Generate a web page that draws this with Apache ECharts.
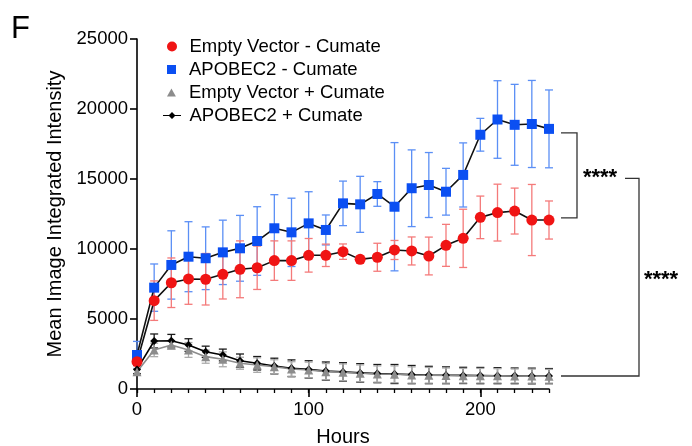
<!DOCTYPE html>
<html><head><meta charset="utf-8">
<script src="https://cdn.jsdelivr.net/npm/echarts@6/dist/echarts.min.js"></script>
<style>html,body{margin:0;padding:0;background:#fff}#c{width:692px;height:446px}</style>
</head><body><div id="c"></div>
<script>
const hours = [0,10,20,30,40,50,60,70,80,90,100,110,120,130,140,150,160,170,180,190,200,210,220,230,240];
const xTickLabels = [0,100,200];
const yTickValues = [0,5000,10000,15000,20000,25000];

const seriesNames = ['Empty Vector - Cumate','APOBEC2 - Cumate','Empty Vector + Cumate','APOBEC2 + Cumate'];

const emptyMinusMean = [1950,6310,7590,7860,7840,8190,8550,8660,9170,9170,9550,9550,9810,9260,9410,9930,9860,9500,10260,10760,12260,12600,12710,12070,12070];
const emptyMinusSD   = [300,1410,1770,1810,1840,1760,2030,1550,1410,1410,1200,800,550,250,1000,680,1000,1350,1500,2080,1520,2030,1640,2540,1360];

const apoMinusMean = [2430,7240,8860,9450,9340,9760,10050,10570,11480,11190,11830,11360,13260,13190,13930,13020,14340,14570,14090,15290,18160,19250,18870,18930,18580];
const apoMinusSD   = [970,1690,2440,2500,2240,2300,2350,2450,2400,2440,2260,1070,1590,2000,880,4580,2740,2320,1670,2290,1170,2770,2890,3110,2780];

const emptyPlusMean = [1240,2790,3140,2790,2310,2120,1840,1710,1590,1430,1360,1240,1190,1120,1070,1050,1000,980,960,950,950,940,930,920,910];
const emptyPlusSD   = [200,480,300,530,470,530,430,520,500,520,560,580,600,600,580,600,580,560,540,520,520,510,500,500,490];

const apoPlusMean = [1400,3430,3450,3140,2660,2430,2020,1840,1640,1480,1400,1280,1220,1150,1100,1070,1030,1000,980,970,960,950,940,930,920];
const apoPlusSD   = [300,500,450,450,400,420,480,480,560,600,620,650,660,660,650,680,650,620,600,580,580,570,560,560,540];

const bracketLevels = [18300, 12230, 930];
const sigLabel = '****';

const FONT = '"Liberation Sans", Arial, Helvetica, sans-serif';

function errSeries(mean, sd, color, capHalf) {
  return {
    type: 'custom', silent: true, z: 1, clip: false,
    data: hours.map((h, i) => [h, mean[i] - sd[i], mean[i] + sd[i]]),
    encode: { x: 0, y: [1, 2] },
    renderItem(params, api) {
      const lo = api.coord([api.value(0), api.value(1)]);
      const hi = api.coord([api.value(0), api.value(2)]);
      const st = { stroke: color, lineWidth: 1.3 };
      return { type: 'group', children: [
        { type: 'line', shape: { x1: lo[0], y1: lo[1], x2: hi[0], y2: hi[1] }, style: st },
        { type: 'line', shape: { x1: lo[0] - capHalf, y1: lo[1], x2: lo[0] + capHalf, y2: lo[1] }, style: st },
        { type: 'line', shape: { x1: hi[0] - capHalf, y1: hi[1], x2: hi[0] + capHalf, y2: hi[1] }, style: st }
      ]};
    }
  };
}

function lineSeries(name, mean, symbol, size, color, lineColor, z) {
  return {
    type: 'line', name: name, z: z,
    data: hours.map((h, i) => [h, mean[i]]),
    symbol: symbol, symbolSize: size, showAllSymbol: true,
    itemStyle: { color: color },
    lineStyle: { color: lineColor, width: 1.6 },
    emphasis: { disabled: true }
  };
}

const legendCommon = {
  orient: 'horizontal', padding: 0, itemGap: 0, selectedMode: false,
  textStyle: { fontSize: 18.5, color: '#000', fontFamily: FONT }
};

const chart = echarts.init(document.getElementById('c'), null, { renderer: 'canvas' });
chart.setOption({
  animation: false,
  backgroundColor: '#fff',
  title: { text: 'F', left: 11, top: 14, padding: 0, textStyle: { fontSize: 31, fontWeight: 'normal', color: '#000', fontFamily: FONT } },
  grid: { left: 137, right: 143, top: 39, bottom: 57, containLabel: false, outerBoundsMode: 'none' },
  legend: [
    Object.assign({ data: [seriesNames[0]], left: 167, top: 37, icon: 'circle', itemWidth: 25, itemHeight: 10 }, legendCommon),
    Object.assign({ data: [seriesNames[1]], left: 167, top: 60, icon: 'path://M0,0H10V10H0Z', itemWidth: 25, itemHeight: 9 }, legendCommon),
    Object.assign({ data: [seriesNames[2]], left: 167, top: 83, icon: 'path://M5,0L10,9L0,9Z', itemWidth: 25, itemHeight: 8 }, legendCommon),
    Object.assign({ data: [seriesNames[3]], left: 163, top: 106, icon: 'path://M0,3H6L9,0L12,3H18V4.2H12L9,7.2L6,4.2H0Z', itemWidth: 25, itemHeight: 7.2 }, legendCommon)
  ],
  xAxis: [
    { type: 'value', min: 0, max: 240, interval: 10, position: 'bottom',
      axisLine: { show: true, lineStyle: { color: '#000', width: 1.6 } },
      axisTick: { show: true, length: 4, lineStyle: { color: '#000', width: 1.3 } },
      axisLabel: { show: false }, splitLine: { show: false } },
    { type: 'value', min: 0, max: 240, interval: 100, position: 'bottom',
      axisLine: { show: false },
      axisTick: { show: true, length: 8, customValues: xTickLabels, lineStyle: { color: '#000', width: 1.6 } },
      axisLabel: { show: true, customValues: xTickLabels, margin: 11, fontSize: 18.5, color: '#000', fontFamily: FONT },
      splitLine: { show: false },
      name: 'Hours', nameLocation: 'middle', nameGap: 38,
      nameTextStyle: { fontSize: 20, color: '#000', fontFamily: FONT } }
  ],
  yAxis: {
    type: 'value', min: 0, max: 25000, interval: 5000,
    axisLine: { show: true, lineStyle: { color: '#000', width: 1.6 } },
    axisTick: { show: true, length: 7, lineStyle: { color: '#000', width: 1.6 } },
    axisLabel: { margin: 9, fontSize: 18.5, color: '#000', fontFamily: FONT, formatter: v => String(v) },
    splitLine: { show: false },
    name: 'Mean Image Integrated Intensity', nameLocation: 'middle', nameGap: 68,
    nameTextStyle: { fontSize: 20, color: '#000', fontFamily: FONT }
  },
  series: [
    errSeries(apoMinusMean, apoMinusSD, '#5b8ff5', 4),
    errSeries(emptyMinusMean, emptyMinusSD, '#f47a7a', 4),
    errSeries(apoPlusMean, apoPlusSD, '#1a1a1a', 4),
    errSeries(emptyPlusMean, emptyPlusSD, '#ababab', 4),
    lineSeries(seriesNames[1], apoMinusMean, 'rect', 10, '#0b4ff2', '#111', 3),
    lineSeries(seriesNames[0], emptyMinusMean, 'circle', 11, '#f01414', '#111', 3),
    lineSeries(seriesNames[3], apoPlusMean, 'diamond', 8, '#000', '#000', 3),
    lineSeries(seriesNames[2], emptyPlusMean, 'triangle', 9, '#8c8c8c', '#8c8c8c', 3),
    {
      type: 'custom', silent: true, z: 5, clip: false,
      data: [[hours[hours.length - 1], bracketLevels[0], bracketLevels[1], bracketLevels[2]]],
      encode: { x: 0, y: [1, 2, 3] },
      renderItem(params, api) {
        const x0 = api.coord([api.value(0), 0])[0];
        const yB = api.coord([0, api.value(1)])[1];
        const yR = api.coord([0, api.value(2)])[1];
        const yG = api.coord([0, api.value(3)])[1];
        const yM = (yB + yR) / 2;
        const yM2 = yM + 3;
        const st = { stroke: '#333', lineWidth: 1.3, fill: null };
        const ts = { text: sigLabel, fill: '#000', font: 'bold 22px ' + FONT, align: 'center', verticalAlign: 'middle' };
        return { type: 'group', children: [
          { type: 'polyline', shape: { points: [[x0 + 12, yB], [x0 + 28, yB], [x0 + 28, yR], [x0 + 12, yR]] }, style: st },
          { type: 'polyline', shape: { points: [[x0 + 76, yM2], [x0 + 90, yM2], [x0 + 90, yG], [x0 + 12, yG]] }, style: st },
          { type: 'text', x: x0 + 51, y: yM + 3, style: Object.assign({}, ts) },
          { type: 'text', x: x0 + 112, y: (yM2 + yG) / 2 + 3, style: Object.assign({}, ts) }
        ]};
      }
    }
  ]
});
</script></body></html>
